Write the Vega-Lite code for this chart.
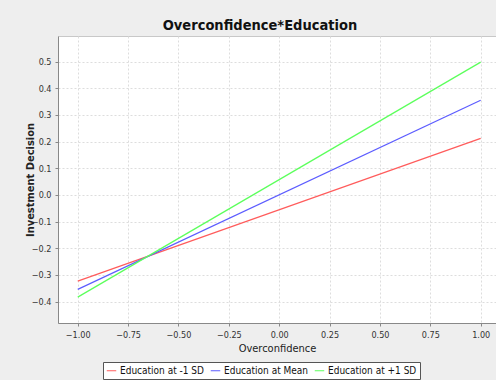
{
  "$schema": "https://vega.github.io/schema/vega-lite/v6.json",
  "autosize": {"type": "none"},
  "width": 438,
  "height": 287,
  "padding": {"left": 58, "top": 36, "right": 0, "bottom": 57},
  "background": "#eeeeee",
  "title": {
    "text": "Overconfidence*Education",
    "font": "DejaVu Sans Condensed",
    "fontSize": 14.5,
    "fontWeight": "bold",
    "color": "#111111",
    "anchor": "middle",
    "frame": "bounds",
    "offset": 3
  },
  "config": {
    "font": "DejaVu Sans Condensed",
    "view": {"fill": "white", "stroke": "#c8c8c8"},
    "axis": {
      "labelFont": "DejaVu Sans Condensed",
      "labelFontSize": 9,
      "labelColor": "#333333",
      "titleFont": "DejaVu Sans Condensed",
      "titleFontSize": 11,
      "titleColor": "#222222",
      "domainColor": "#888888",
      "tickColor": "#888888",
      "tickSize": 3,
      "gridColor": "#dddddd",
      "gridDash": [2, 2],
      "gridWidth": 1
    }
  },
  "data": {
    "values": [
      {"overconfidence": -1, "decision": -0.323, "series": "Education at -1 SD"},
      {"overconfidence": 1, "decision": 0.212, "series": "Education at -1 SD"},
      {"overconfidence": -1, "decision": -0.354, "series": "Education at Mean"},
      {"overconfidence": 1, "decision": 0.355, "series": "Education at Mean"},
      {"overconfidence": -1, "decision": -0.383, "series": "Education at +1 SD"},
      {"overconfidence": 1, "decision": 0.498, "series": "Education at +1 SD"}
    ]
  },
  "mark": {"type": "line", "strokeWidth": 1.2, "clip": true},
  "encoding": {
    "x": {
      "field": "overconfidence",
      "type": "quantitative",
      "scale": {"domain": [-1.098, 1.076], "nice": false, "zero": false},
      "axis": {
        "title": "Overconfidence",
        "values": [-1, -0.75, -0.5, -0.25, 0, 0.25, 0.5, 0.75, 1],
        "format": ".2f",
        "labelPadding": 4,
        "titlePadding": 3,
        "titleFontWeight": "normal"
      }
    },
    "y": {
      "field": "decision",
      "type": "quantitative",
      "scale": {"domain": [-0.48, 0.596], "nice": false, "zero": false},
      "axis": {
        "title": "Investment Decision",
        "values": [-0.4, -0.3, -0.2, -0.1, 0, 0.1, 0.2, 0.3, 0.4, 0.5],
        "format": ".1f",
        "labelPadding": 4,
        "titleX": -28,
        "titleBaseline": "middle",
        "titleFontWeight": "bold",
        "titleFontSize": 11
      }
    },
    "color": {
      "field": "series",
      "type": "nominal",
      "scale": {
        "domain": ["Education at -1 SD", "Education at Mean", "Education at +1 SD"],
        "range": ["#ff5c5c", "#5c5cff", "#5cff5c"]
      },
      "legend": {
        "title": null,
        "orient": "none",
        "legendX": 45,
        "legendY": 326,
        "direction": "horizontal",
        "symbolType": "stroke",
        "symbolSize": 90,
        "symbolStrokeWidth": 1,
        "labelFont": "DejaVu Sans Condensed",
        "labelFontSize": 10,
        "labelColor": "#111111",
        "labelOffset": 3,
        "columnPadding": 3,
        "padding": 3,
        "fillColor": "white",
        "strokeColor": "#555555"
      }
    }
  }
}
